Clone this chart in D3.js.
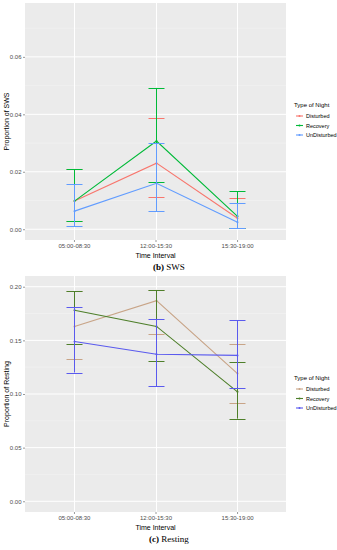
<!DOCTYPE html>
<html>
<head>
<meta charset="utf-8">
<script src="https://cdn.jsdelivr.net/npm/d3@7"></script>
<style>
  body { margin: 0; background: #fff; }
  svg text { font-family: "Liberation Sans", Arial, sans-serif; }
</style>
</head>
<body>
<svg id="chart" width="337" height="550"></svg>
<script>
// categories
const intervals = ["05:00-08:30", "12:00-15:30", "15:30-19:00"];
const nightTypes = ["Disturbed", "Recovery", "UnDisturbed"];

// (b) SWS - means and error bar ends
const swsMean  = { Disturbed: [0.0098, 0.0230, 0.0038], Recovery: [0.0098, 0.0307, 0.0045], UnDisturbed: [0.0063, 0.0160, 0.0024] };
const swsUpper = { Disturbed: [0.0210, 0.0387, 0.0110], Recovery: [0.0209, 0.0492, 0.0133], UnDisturbed: [0.0157, 0.0300, 0.0090] };
const swsLower = { Disturbed: [0.0030, 0.0112, 0.0003], Recovery: [0.0028, 0.0164, 0.0003], UnDisturbed: [0.0010, 0.0063, 0.0003] };
const swsTicks = [0, 0.02, 0.04, 0.06];

// (c) Resting
const restMean  = { Disturbed: [0.163, 0.187, 0.119], Recovery: [0.178, 0.163, 0.102], UnDisturbed: [0.149, 0.137, 0.136] };
const restUpper = { Disturbed: [0.196, 0.197, 0.147], Recovery: [0.196, 0.197, 0.130], UnDisturbed: [0.181, 0.170, 0.169] };
const restLower = { Disturbed: [0.133, 0.156, 0.092], Recovery: [0.147, 0.131, 0.077], UnDisturbed: [0.120, 0.107, 0.106] };
const restTicks = [0, 0.05, 0.10, 0.15, 0.20];

const svg = d3.select("#chart");

// snap to pixel centre so 1px lines stay crisp
function px(v){ return Math.round(v) + 0.5; }

function drawPanel(opt){
	let g = svg.append("g");
	let x = d3.scalePoint().domain(intervals).range([opt.left, opt.right]).padding(0.6);
	let y = d3.scaleLinear().domain(opt.ydomain).range([opt.bottom, opt.top]);
	let color = d3.scaleOrdinal().domain(nightTypes).range(opt.colors);

	// panel background
	g.append("rect")
		.attr("x", opt.left).attr("y", opt.top)
		.attr("width", opt.right - opt.left).attr("height", opt.bottom - opt.top)
		.attr("fill", "#ebebeb");

	// minor grid
	let step = opt.ticks[1] - opt.ticks[0];
	let minor = opt.ticks.map(t => t + step / 2).filter(t => y(t) > opt.top);
	g.selectAll(".minor").data(minor).enter().append("line")
		.attr("x1", opt.left).attr("x2", opt.right)
		.attr("y1", d => y(d)).attr("y2", d => y(d))
		.attr("stroke", "#f5f5f5").attr("stroke-width", 0.5);
	// major grid
	g.selectAll(".majory").data(opt.ticks).enter().append("line")
		.attr("x1", opt.left).attr("x2", opt.right)
		.attr("y1", d => y(d)).attr("y2", d => y(d))
		.attr("stroke", "#fff").attr("stroke-width", 1);
	g.selectAll(".majorx").data(intervals).enter().append("line")
		.attr("x1", d => px(x(d))).attr("x2", d => px(x(d)))
		.attr("y1", opt.top).attr("y2", opt.bottom)
		.attr("stroke", "#fff").attr("stroke-width", 1);

	// axes
	let yAxis = d3.axisLeft(y).tickValues(opt.ticks).tickFormat(d3.format(".2f")).tickSize(2).tickPadding(1.5);
	let ya = g.append("g").attr("transform", "translate(" + opt.left + ",0)").call(yAxis);
	let xAxis = d3.axisBottom(x).tickSize(2).tickPadding(2);
	let xa = g.append("g").attr("transform", "translate(0," + opt.bottom + ")").call(xAxis);
	[ya, xa].forEach(a => {
		a.select(".domain").remove();
		a.selectAll(".tick line").attr("stroke", "#333").attr("stroke-width", 0.5);
		a.selectAll(".tick text").attr("fill", "#4d4d4d").style("font-size", "6px")
			.style("font-family", "Liberation Sans, Arial, sans-serif");
	});

	// error bars + lines, one group per night type
	nightTypes.forEach(t => {
		let rows = intervals.map((iv, i) => ({ iv: iv, m: opt.mean[t][i], lo: opt.lower[t][i], hi: opt.upper[t][i] }));
		let s = g.append("g");
		let c = color(t);
		s.selectAll(".v").data(rows).enter().append("line")
			.attr("x1", d => px(x(d.iv))).attr("x2", d => px(x(d.iv)))
			.attr("y1", d => y(d.lo)).attr("y2", d => y(d.hi))
			.attr("stroke", c).attr("stroke-width", 1);
		["lo", "hi"].forEach(k => {
			s.selectAll(".h" + k).data(rows).enter().append("line")
				.attr("x1", d => px(x(d.iv)) - 8).attr("x2", d => px(x(d.iv)) + 8)
				.attr("y1", d => px(y(d[k]))).attr("y2", d => px(y(d[k])))
				.attr("stroke", c).attr("stroke-width", 1);
		});
		let line = d3.line().x(d => px(x(d.iv))).y(d => y(d.m));
		s.append("path").datum(rows).attr("d", line)
			.attr("fill", "none").attr("stroke", c).attr("stroke-width", 1.1);
		s.selectAll(".pt").data(rows).enter().append("circle")
			.attr("cx", d => px(x(d.iv))).attr("cy", d => y(d.m)).attr("r", 1)
			.attr("fill", c);
	});

	// axis titles
	g.append("text")
		.attr("transform", "translate(9," + ((opt.top + opt.bottom) / 2) + ") rotate(-90)")
		.attr("text-anchor", "middle").style("font-size", "7px").attr("fill", "#000")
		.text(opt.ytitle);
	g.append("text")
		.attr("x", (opt.left + opt.right) / 2).attr("y", opt.bottom + 18)
		.attr("text-anchor", "middle").style("font-size", "7px").attr("fill", "#000")
		.text("Time Interval");

	// legend
	let lg = g.append("g").attr("transform", "translate(294," + opt.legendY + ")");
	lg.append("text").attr("x", 0).attr("y", 2).style("font-size", "6px").attr("fill", "#000").text("Type of Night");
	nightTypes.forEach((t, i) => {
		let yy = 11 + i * 9.5;
		lg.append("line").attr("x1", 2).attr("x2", 9).attr("y1", yy).attr("y2", yy)
			.attr("stroke", color(t)).attr("stroke-width", 1.1);
		lg.append("circle").attr("cx", 5.5).attr("cy", yy).attr("r", 1).attr("fill", color(t));
		lg.append("text").attr("x", 12).attr("y", yy + 2).style("font-size", "5.5px").attr("fill", "#000").text(t);
	});

	// caption
	let cap = g.append("text")
		.attr("x", 169).attr("y", opt.bottom + 30)
		.attr("text-anchor", "middle")
		.style("font-family", "Liberation Serif, serif").style("font-size", "9px").attr("fill", "#000");
	cap.append("tspan").style("font-weight", "bold").text(opt.capLetter);
	cap.append("tspan").text(" " + opt.capText);
}

drawPanel({
	left: 25, right: 286, top: 3, bottom: 240,
	ydomain: [-0.00375, 0.07875], ticks: swsTicks,
	mean: swsMean, upper: swsUpper, lower: swsLower,
	colors: ["#F8766D", "#00BA38", "#619CFF"],
	ytitle: "Proportion of SWS", legendY: 105,
	capLetter: "(b)", capText: "SWS"
});

drawPanel({
	left: 25, right: 286, top: 276, bottom: 512,
	ydomain: [-0.01, 0.21], ticks: restTicks,
	mean: restMean, upper: restUpper, lower: restLower,
	colors: ["#C8A487", "#4E7F2A", "#5A5AEE"],
	ytitle: "Proportion of Resting", legendY: 378,
	capLetter: "(c)", capText: "Resting"
});
</script>
</body>
</html>
